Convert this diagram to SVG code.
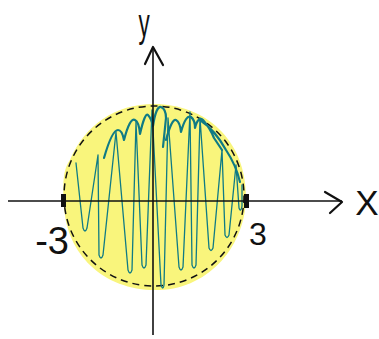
<svg xmlns="http://www.w3.org/2000/svg" width="379" height="339" viewBox="0 0 379 339">
<style>
.axis{stroke:#111;stroke-width:1.6;fill:none}
.arrow{stroke:#111;stroke-width:2.2;fill:none;stroke-linecap:round;stroke-linejoin:round}
.lbl{font-family:"Liberation Sans",Arial,sans-serif;fill:#111}
.scr{stroke:#0f7b85;fill:none;stroke-linecap:round;stroke-linejoin:round}
</style>
<rect width="379" height="339" fill="#fff"/>
<g id="disk">
<path d="M154 104 C205 104 246 140 246 196 C246 245 210 288 160 290 C105 292 66 255 64 205 C62 180 64 168 70 160 C85 125 115 104 154 104 Z" fill="#f9f57c"/>
<circle cx="154" cy="196" r="90" fill="none" stroke="#111" stroke-width="1.5" stroke-dasharray="7 5"/>
</g>
<g id="scribble">
<path class="scr" stroke-width="1.3" d="M76 163 L83 228 Q85 234 87 228 L98 155 L99 255 Q101 261 103 255 L116 132 L128 270 Q130 276 132 270 L136 122 L142 265 Q144 271 146 265 L152 110 L161 285 Q163 291 164 285 L168 118 L179 267 Q181 273 183 267 L190 112 L192 265 Q194 271 196 265 L200 118 L209 248 Q211 253 213 248 L222 150 L225 235 Q227 240 229 235 L236 165 L239 208 Q241 213 242 206 L242 185"/>
<path class="scr" stroke-width="2.2" d="M104 158 Q112 130 118 130 Q122 130 124 140 Q130 117 135 120 Q139 122 140 134 Q145 112 148 115 Q151 118 153 126 Q156 106 161 107 Q166 109 166 118 L163 147 M166 140 Q172 118 176 120 Q180 122 181 132 Q186 114 191 117 Q195 120 195 128 Q198 116 203 120 Q210 128 214 138 L222 150 M200 120 Q215 130 226 150 Q236 165 240 182"/>
</g>
<g id="connectors">
<line class="axis" x1="153" y1="48" x2="153" y2="335"/>
<line class="axis" x1="8" y1="201" x2="342" y2="201"/>
<path class="arrow" d="M145 64 L153 47 L163 65"/>
<path class="arrow" d="M325 192 L342 202 L330 213"/>
<rect x="61" y="194" width="5" height="13" fill="#111"/>
<rect x="244" y="194" width="5" height="14" fill="#111"/>
</g>
<g id="labels">
<text class="lbl" font-size="30" text-anchor="middle" transform="translate(144 37) scale(0.75 1.35)">y</text>
<text class="lbl" x="367" y="215" font-size="35" text-anchor="middle">X</text>
<text class="lbl" x="69" y="254" font-size="38" text-anchor="end">-3</text>
<text class="lbl" x="249" y="245" font-size="32">3</text>
</g>
</svg>
